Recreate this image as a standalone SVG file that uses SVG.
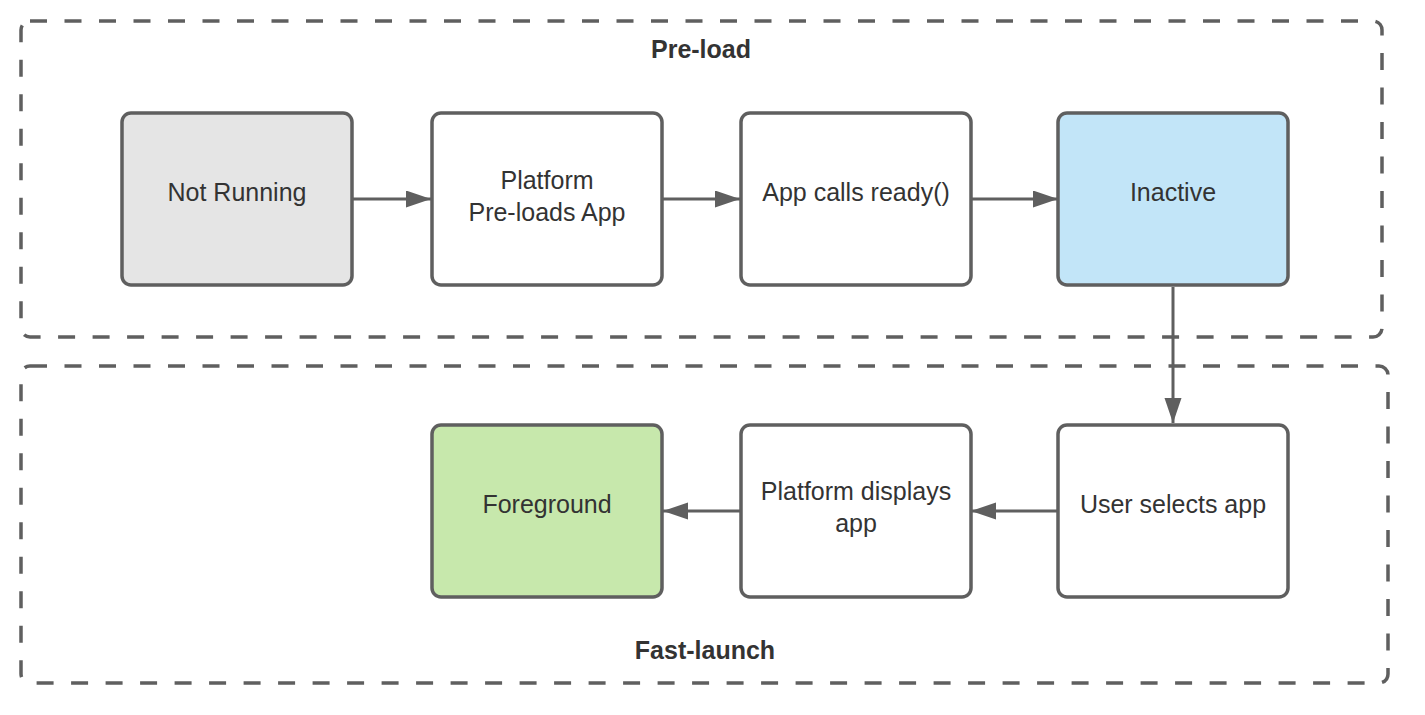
<svg xmlns="http://www.w3.org/2000/svg" width="1425" height="715" viewBox="0 0 1425 715">
<style>
.grp{fill:none;stroke:#5f5f5f;stroke-width:3.5;stroke-dasharray:17 17.5}
.box{stroke:#5f5f5f;stroke-width:3.5}
.t{font-family:"Liberation Sans",Arial,sans-serif;font-size:25px;fill:#333;text-anchor:middle}
.h{font-family:"Liberation Sans",Arial,sans-serif;font-size:25px;font-weight:bold;fill:#333;text-anchor:middle}
.c{fill:none;stroke:#5f5f5f;stroke-width:3}
</style>
<defs>
<marker id="ah" markerWidth="26" markerHeight="18" refX="25" refY="8.5" orient="auto" markerUnits="userSpaceOnUse">
<path d="M0,0 L25,8.5 L0,17 Z" fill="#5f5f5f"/>
</marker>
</defs>
<rect width="1425" height="715" fill="#fff"/>
<g id="preload">
<rect class="grp" x="21" y="21" width="1361" height="316" rx="9"/>
<text class="h" x="701" y="58">Pre-load</text>
</g>
<g id="fastlaunch">
<rect class="grp" x="21" y="366" width="1367" height="317" rx="9"/>
<text class="h" x="705" y="659">Fast-launch</text>
</g>
<g id="connectors">
<path class="c" d="M353,199 L431,199" marker-end="url(#ah)"/>
<path class="c" d="M662,199 L740,199" marker-end="url(#ah)"/>
<path class="c" d="M971,199 L1058,199" marker-end="url(#ah)"/>
<path class="c" d="M1173,287 L1173,423" marker-end="url(#ah)"/>
<path class="c" d="M1058,511 L971,511" marker-end="url(#ah)"/>
<path class="c" d="M740,511 L663,511" marker-end="url(#ah)"/>
</g>
<g id="not-running">
<rect class="box" x="122" y="113" width="230" height="172" rx="9" fill="#e5e5e5"/>
<text class="t" x="237" y="201">Not Running</text>
</g>
<g id="platform-preloads">
<rect class="box" x="432" y="113" width="230" height="172" rx="9" fill="#fff"/>
<text class="t" x="547" y="189">Platform</text>
<text class="t" x="547" y="221">Pre-loads App</text>
</g>
<g id="app-calls-ready">
<rect class="box" x="741" y="113" width="230" height="172" rx="9" fill="#fff"/>
<text class="t" x="856" y="201">App calls ready()</text>
</g>
<g id="inactive">
<rect class="box" x="1058" y="113" width="230" height="172" rx="9" fill="#c2e5f8"/>
<text class="t" x="1173" y="201">Inactive</text>
</g>
<g id="foreground">
<rect class="box" x="432" y="425" width="230" height="172" rx="9" fill="#c7e8ac"/>
<text class="t" x="547" y="513">Foreground</text>
</g>
<g id="platform-displays">
<rect class="box" x="741" y="425" width="230" height="172" rx="9" fill="#fff"/>
<text class="t" x="856" y="500">Platform displays</text>
<text class="t" x="856" y="532">app</text>
</g>
<g id="user-selects">
<rect class="box" x="1058" y="425" width="230" height="172" rx="9" fill="#fff"/>
<text class="t" x="1173" y="513">User selects app</text>
</g>
</svg>
